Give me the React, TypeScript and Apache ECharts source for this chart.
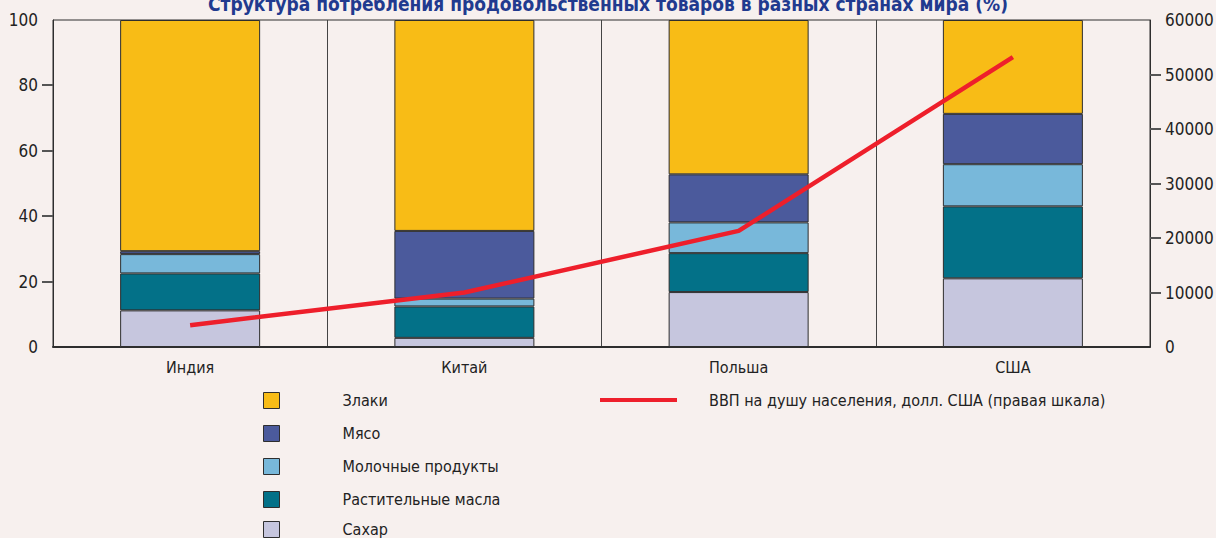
import React, { useEffect, useRef } from "react";
import * as echarts from "echarts";

const countries = ["Индия", "Китай", "Польша", "США"];
const sugar = [11.2, 2.8, 16.8, 21.0];
const oils = [11.3, 9.6, 11.9, 22.0];
const dairy = [5.9, 2.4, 9.4, 12.9];
const meat = [0.9, 20.7, 14.7, 15.4];
const cereals = [70.7, 64.5, 47.2, 28.7];
const gdp = [4000, 10000, 21300, 53200];
const leftTicks = [0, 20, 40, 60, 80, 100];
const rightTicks = [0, 10000, 20000, 30000, 40000, 50000, 60000];
const gdpName = "ВВП на душу населения, долл. США (правая шкала)";

const FONT = "'DejaVu Sans Condensed', 'Liberation Sans Narrow', sans-serif";
const BG = "#f7f0ee";
const BORDER = "#2e2e2e";
const TEXT = "#222";
const TICK = "#555555";
const TICK_LEN = 11;
const GRID = { left: 53, right: 66, top: 20, bottom: 191 };
const W = 1216;
const H = 538;

const barSeries = [
  { name: "Сахар", data: sugar, color: "#c6c6de" },
  { name: "Растительные масла", data: oils, color: "#037188" },
  { name: "Молочные продукты", data: dairy, color: "#78b8da" },
  { name: "Мясо", data: meat, color: "#4b5a9c" },
  { name: "Злаки", data: cereals, color: "#f8bc16" },
];

const legendText = { fontFamily: FONT, fontSize: 16, color: TEXT, lineHeight: 16, height: 16 };

// custom series that draws outer tick marks on a value axis (inner values only)
const tickSeries = (axisIndex: number, values: number[], side: "left" | "right") => ({
  type: "custom",
  yAxisIndex: axisIndex,
  silent: true,
  clip: false,
  z: 20,
  tooltip: { show: false },
  data: values.slice(1, -1).map((v) => [0, v]),
  renderItem: (params: any, api: any) => {
    const pt = api.coord([0, api.value(1)]);
    const cs = params.coordSys;
    const x0 = side === "left" ? cs.x - TICK_LEN : cs.x + cs.width;
    return {
      type: "rect",
      shape: { x: x0, y: Math.round(pt[1]) - 1, width: TICK_LEN, height: 2 },
      style: { fill: TICK },
    };
  },
});

export default function App() {
  const ref = useRef<HTMLDivElement>(null);
  useEffect(() => {
    document.body.style.margin = "0";
    const chart = echarts.init(ref.current!, null, { renderer: "svg" });
    const squareLegend = (names: string[], top: number) => ({
      orient: "vertical",
      left: 263,
      top,
      padding: 0,
      icon: "rect",
      itemWidth: 16,
      itemHeight: 16,
      itemGap: 16,
      data: names,
      itemStyle: { borderColor: BORDER, borderWidth: 1 },
      textStyle: { ...legendText, padding: [0, 0, 0, 58] },
    });
    const option: any = {
      animation: false,
      backgroundColor: BG,
      title: {
        text: "Структура потребления продовольственных товаров в разных странах мира (%)",
        left: "center",
        top: -11,
        textStyle: { fontFamily: FONT, fontSize: 19, fontWeight: "bold", color: "#213a8f" },
      },
      grid: {
        ...GRID,
        outerBoundsMode: "none",
        containLabel: false,
        show: true, borderColor: BORDER, borderWidth: 1, backgroundColor: BG,
      },
      legend: [
        squareLegend(["Злаки", "Мясо", "Молочные продукты", "Растительные масла"], 392),
        squareLegend(["Сахар"], 521),
        {
          orient: "vertical",
          left: 600,
          top: 392,
          padding: 0,
          icon: "rect",
          itemWidth: 77,
          itemHeight: 4,
          data: [gdpName],
          itemStyle: { color: "#ee1f2b", borderWidth: 0 },
          textStyle: { ...legendText, padding: [0, 0, 0, 27] },
        },
      ],
      xAxis: {
        type: "category",
        data: countries,
        boundaryGap: true,
        axisLine: { lineStyle: { color: BORDER, width: 2 } },
        axisTick: { show: false },
        splitLine: { show: true, lineStyle: { color: "#444", width: 1 } },
        axisLabel: { fontFamily: FONT, fontSize: 16, color: TEXT, margin: 12 },
      },
      yAxis: [
        {
          type: "value",
          min: leftTicks[0],
          max: leftTicks[leftTicks.length - 1],
          interval: 20,
          position: "left",
          axisLine: { show: true, lineStyle: { color: BORDER } },
          axisTick: { show: false },
          splitLine: { show: false },
          axisLabel: { fontFamily: FONT, fontSize: 17, color: TEXT, margin: 15 },
        },
        {
          type: "value",
          min: rightTicks[0],
          max: rightTicks[rightTicks.length - 1],
          interval: 10000,
          position: "right",
          axisLine: { show: true, lineStyle: { color: BORDER } },
          axisTick: { show: false },
          splitLine: { show: false },
          axisLabel: {
            fontFamily: FONT, fontSize: 17, color: TEXT, margin: 15,
            formatter: (v: number) => String(v),
          },
        },
      ],
      series: [
        ...barSeries.map((s) => ({
          name: s.name,
          type: "bar",
          stack: "total",
          barWidth: 140,
          data: s.data,
          itemStyle: { color: s.color, borderColor: BORDER, borderWidth: 1 },
        })),
        {
          name: gdpName,
          type: "line",
          yAxisIndex: 1,
          data: gdp,
          symbol: "none",
          z: 10,
          lineStyle: { color: "#ee1f2b", width: 4.5 },
          itemStyle: { color: "#ee1f2b" },
        },
        tickSeries(0, leftTicks, "left"),
        tickSeries(1, rightTicks, "right"),
      ],
    };
    chart.setOption(option);
    return () => chart.dispose();
  }, []);
  return <div ref={ref} style={{ position: "absolute", left: 0, top: 0, width: W, height: H }} />;
}
